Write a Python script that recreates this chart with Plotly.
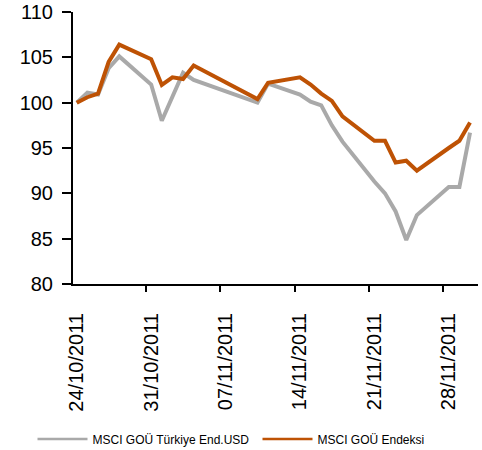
import plotly.graph_objects as go
import pandas as pd

dates = ["2011-10-24", "2011-10-25", "2011-10-26", "2011-10-27", "2011-10-28",
         "2011-10-31", "2011-11-01", "2011-11-02", "2011-11-03", "2011-11-04",
         "2011-11-10", "2011-11-11",
         "2011-11-14", "2011-11-15", "2011-11-16", "2011-11-17", "2011-11-18",
         "2011-11-21", "2011-11-22", "2011-11-23", "2011-11-24", "2011-11-25",
         "2011-11-28", "2011-11-29", "2011-11-30"]

turkiye_usd = [100.0, 101.1, 100.9, 103.8, 105.1,
               102.0, 98.0, 100.7, 103.3, 102.5,
               100.0, 102.1,
               100.9, 100.1, 99.7, 97.5, 95.7,
               91.3, 90.0, 88.0, 84.85, 87.6,
               90.7, 90.7, 96.7]

gou_endeksi = [100.0, 100.6, 101.0, 104.5, 106.4,
               104.8, 101.95, 102.8, 102.6, 104.1,
               100.4, 102.2,
               102.8, 102.0, 101.0, 100.2, 98.5,
               95.8, 95.8, 93.4, 93.6, 92.5,
               95.0, 95.8, 97.8]

tick_dates = ["2011-10-24", "2011-10-31", "2011-11-07", "2011-11-14", "2011-11-21", "2011-11-28"]
tick_labels = ["24/10/2011", "31/10/2011", "07/11/2011", "14/11/2011", "21/11/2011", "28/11/2011"]

names = ["MSCI GOÜ Türkiye End.USD", "MSCI GOÜ Endeksi"]
colors = ["#A9A9A9", "#BE5204"]

x = pd.to_datetime(dates)
tick_x = pd.to_datetime(tick_dates)
minor_x = tick_x - pd.Timedelta(hours=12)

fig = go.Figure()
for name, vals, col in zip(names, [turkiye_usd, gou_endeksi], colors):
    fig.add_trace(go.Scatter(x=x, y=vals, mode="lines", name=name, legendgroup=name,
                             showlegend=False, line=dict(color=col, width=4)))
    # legend entry with a thinner line sample, same group
    fig.add_trace(go.Scatter(x=[None], y=[None], mode="lines", name=name, legendgroup=name,
                             showlegend=True, line=dict(color=col, width=2.5)))

font = "Liberation Sans, Arial, sans-serif"

fig.update_layout(
    width=482, height=450,
    margin=dict(l=73, r=4, t=12, b=166, autoexpand=False),
    paper_bgcolor="white", plot_bgcolor="white",
    font=dict(family=font, color="black"),
    showlegend=True,
    legend=dict(orientation="h", x=-0.1, y=-0.57, xanchor="left", yanchor="middle",
                font=dict(size=12, family=font),
                entrywidth=160, entrywidthmode="pixels", itemwidth=50,
                traceorder="normal"),
    xaxis=dict(
        type="date", automargin=False,
        range=[pd.Timestamp("2011-10-23 15:30"), pd.Timestamp("2011-11-30 18:00")],
        tickvals=tick_x, ticktext=tick_labels,
        tickangle=-90, ticks="outside", ticklen=19, tickcolor="rgba(0,0,0,0)",
        tickfont=dict(size=20, family=font),
        showline=True, linecolor="black", linewidth=2,
        showgrid=False, zeroline=False,
        minor=dict(tickvals=minor_x, ticks="outside", ticklen=6, tickwidth=2,
                   tickcolor="black", showgrid=False),
    ),
    yaxis=dict(
        range=[80, 110], dtick=5, tick0=80, automargin=False,
        ticks="outside", ticklen=9, tickwidth=2, tickcolor="black",
        showline=True, linecolor="black", linewidth=2,
        showgrid=False, zeroline=False,
        tickfont=dict(size=20, family=font),
        ticklabelstandoff=5,
    ),
)

fig.write_html("out.html")
